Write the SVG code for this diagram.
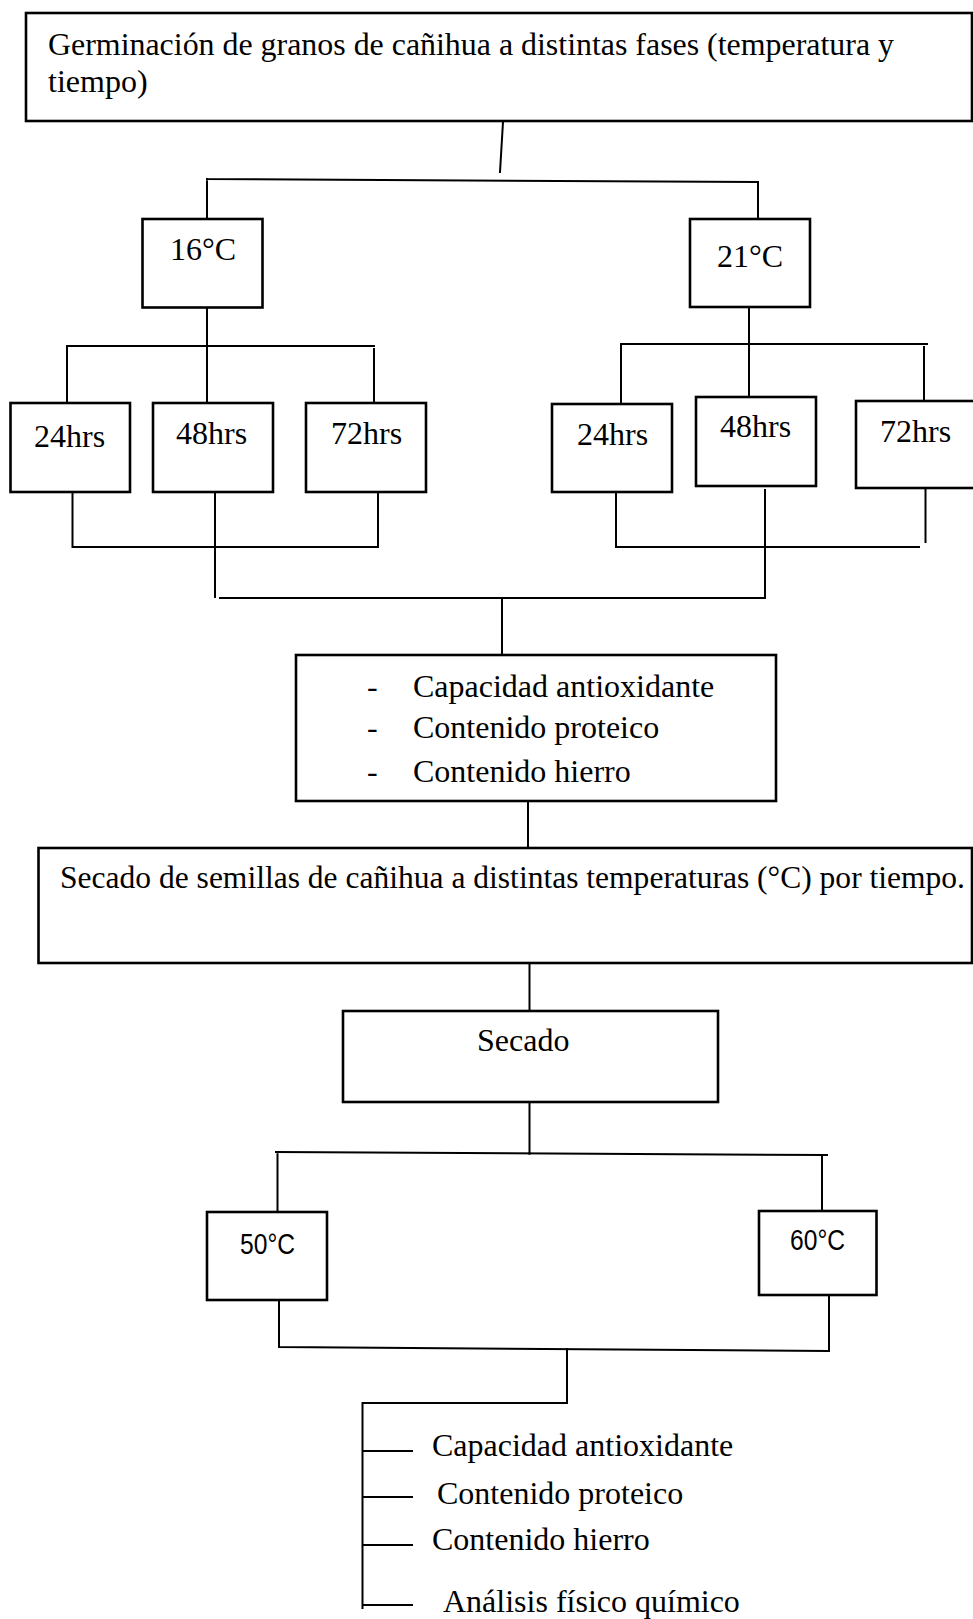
<svg xmlns="http://www.w3.org/2000/svg" width="973" height="1619" viewBox="0 0 973 1619">
<style>
.box{fill:#fff;stroke:#000;stroke-width:2.6}
.ln{fill:none;stroke:#000;stroke-width:2;stroke-linecap:square}
.t{font-family:"Liberation Serif","Times New Roman",serif;font-size:32px;fill:#000}
.s{font-family:"Liberation Sans",Arial,sans-serif;font-size:29px;fill:#000}
</style>
<rect width="973" height="1619" fill="#fff"/>
<g id="connectors">
<path class="ln" d="M503,122 L500,172"/>
<path class="ln" d="M207,179 L758,182 M207,179 L207,219 M758,182 L758,219"/>
<path class="ln" d="M207,307 L207,403 M67,346 L374,346 M67,346 L67,403 M374,349 L374,403"/>
<path class="ln" d="M749,307 L749,397 M621,344 L927,344 M621,344 L621,404 M924,347 L924,401"/>
<path class="ln" d="M72.5,489 L72.5,545 M378,492 L378,547 M72.5,547 L378,547 M215,492 L215,597"/>
<path class="ln" d="M616,492 L616,547 M925.5,490 L925.5,542 M616,547 L919,547 M765,490 L765,597"/>
<path class="ln" d="M220,598 L765,598 M502,598 L502,655"/>
<path class="ln" d="M528,800 L528,848"/>
<path class="ln" d="M529.5,963 L529.5,1011"/>
<path class="ln" d="M529.5,1102 L529.5,1154 M276,1152 L827,1155 M277.5,1153 L277.5,1212 M822,1155 L822,1211"/>
<path class="ln" d="M279,1300 L279,1347 M829,1295 L829,1350 M279,1347 L829,1351"/>
<path class="ln" d="M567,1349 L567,1403 M362.5,1403 L567,1403 M362.5,1403 L362.5,1608"/>
<path class="ln" d="M363,1451 L412,1451 M363,1497 L412,1497 M363,1545 L412,1545 M363,1605 L412,1605"/>
</g>
<g id="n-germinacion">
<rect class="box" x="26" y="13" width="946" height="108"/>
<text class="t" x="48" y="55" textLength="846" lengthAdjust="spacingAndGlyphs">Germinación de granos de cañihua a distintas fases (temperatura y</text>
<text class="t" x="48" y="92">tiempo)</text>
</g>
<g id="n-16c"><rect class="box" x="142.5" y="219" width="120" height="88.5"/><text class="t" x="170" y="260">16°C</text></g>
<g id="n-21c"><rect class="box" x="690" y="219" width="120" height="88"/><text class="t" x="717" y="267">21°C</text></g>
<g id="n-24a"><rect class="box" x="10.5" y="403" width="119.5" height="89"/><text class="t" x="34" y="447">24hrs</text></g>
<g id="n-48a"><rect class="box" x="153" y="403" width="120" height="89"/><text class="t" x="176" y="444">48hrs</text></g>
<g id="n-72a"><rect class="box" x="306" y="403" width="120" height="89"/><text class="t" x="331" y="444">72hrs</text></g>
<g id="n-24b"><rect class="box" x="552" y="404" width="120" height="88"/><text class="t" x="577" y="445">24hrs</text></g>
<g id="n-48b"><rect class="box" x="696" y="397" width="120" height="89"/><text class="t" x="720" y="437">48hrs</text></g>
<g id="n-72b"><rect class="box" x="856" y="401" width="130" height="87"/><text class="t" x="880" y="442">72hrs</text></g>
<g id="n-analisis1">
<rect class="box" x="296" y="655" width="480" height="146"/>
<text class="t" x="367" y="697">-</text><text class="t" x="413" y="697">Capacidad antioxidante</text>
<text class="t" x="367" y="738">-</text><text class="t" x="413" y="738">Contenido proteico</text>
<text class="t" x="367" y="782">-</text><text class="t" x="413" y="782">Contenido hierro</text>
</g>
<g id="n-secado-semillas">
<rect class="box" x="38.5" y="848" width="933.5" height="115"/>
<text class="t" x="60" y="888" textLength="905" lengthAdjust="spacingAndGlyphs">Secado de semillas de cañihua a distintas temperaturas (°C) por tiempo.</text>
</g>
<g id="n-secado"><rect class="box" x="343" y="1011" width="375" height="91"/><text class="t" x="477" y="1051">Secado</text></g>
<g id="n-50c"><rect class="box" x="207" y="1212" width="120" height="88"/><text class="s" x="240" y="1254" textLength="55" lengthAdjust="spacingAndGlyphs">50°C</text></g>
<g id="n-60c"><rect class="box" x="759" y="1211" width="117.5" height="84"/><text class="s" x="790" y="1250" textLength="55" lengthAdjust="spacingAndGlyphs">60°C</text></g>
<g id="n-resultados">
<text class="t" x="432" y="1456">Capacidad antioxidante</text>
<text class="t" x="437" y="1504">Contenido proteico</text>
<text class="t" x="432" y="1550">Contenido hierro</text>
<text class="t" x="443" y="1612">Análisis físico químico</text>
</g>
</svg>
